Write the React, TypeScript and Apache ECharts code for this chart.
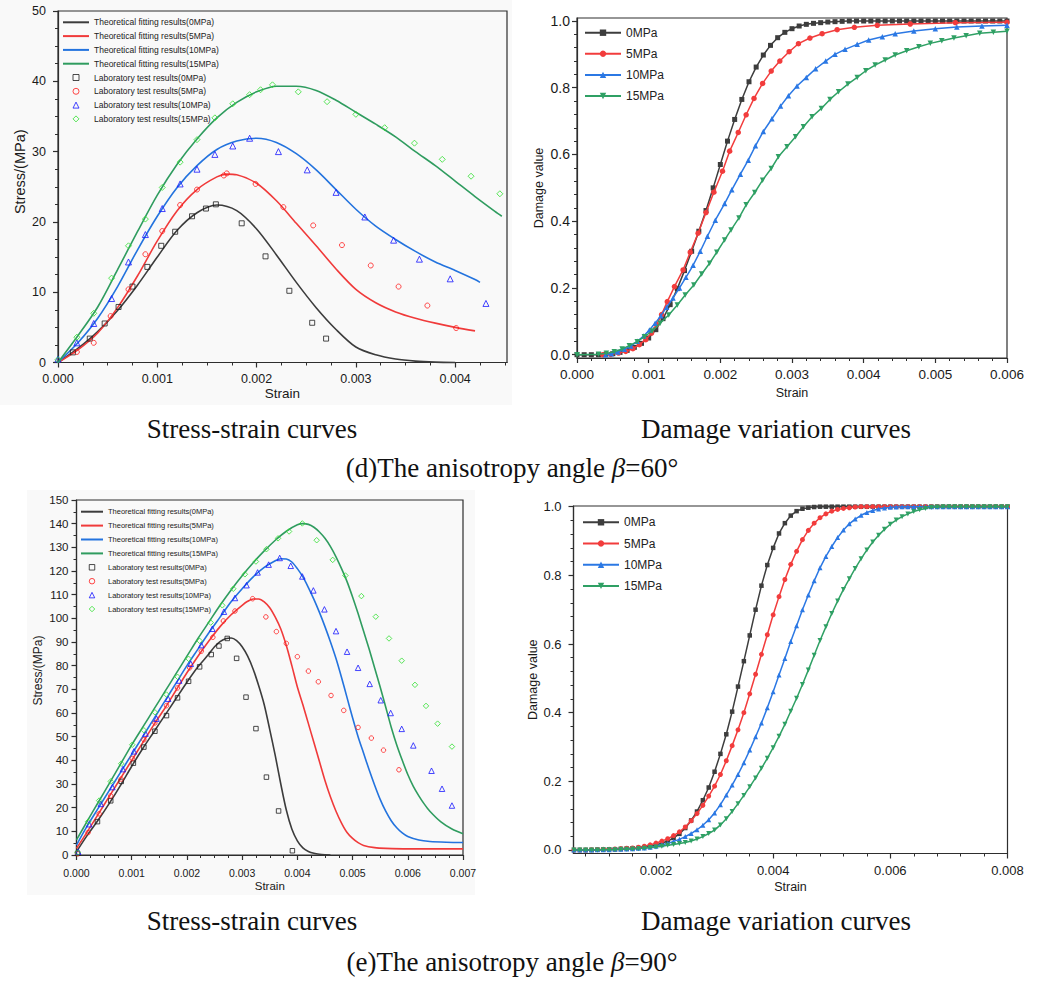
import React, { useEffect, useRef } from 'react';
import * as echarts from 'echarts';

// ---------------- Tick labels ----------------
const X60S_TICKS = [0, 0.001, 0.002, 0.003, 0.004];
const Y60S_TICKS = [0, 10, 20, 30, 40, 50];
const X60D_TICKS = [0, 0.001, 0.002, 0.003, 0.004, 0.005, 0.006];
const YD_TICKS = [0, 0.2, 0.4, 0.6, 0.8, 1.0];
const X90S_TICKS = [0, 0.001, 0.002, 0.003, 0.004, 0.005, 0.006, 0.007];
const Y90S_TICKS = [0, 10, 20, 30, 40, 50, 60, 70, 80, 90, 100, 110, 120, 130, 140, 150];
const X90D_TICKS = [0.002, 0.004, 0.006, 0.008];

// ---------------- (d) beta = 60, stress-strain ----------------
const FIT60_0 = [[0,0],[0.0002,2.0],[0.0004,4.4],[0.0006,7.4],[0.0008,11.0],[0.001,15.0],[0.0012,18.8],[0.0014,21.3],[0.0016,22.4],[0.0018,21.6],[0.002,19.0],[0.0022,15.3],[0.0024,11.4],[0.0026,7.8],[0.0028,4.7],[0.003,2.2],[0.0032,1.1],[0.0034,0.5],[0.0036,0.2],[0.0038,0.06],[0.004,0]];
const FIT60_5 = [[0,0],[0.0002,1.8],[0.0004,4.2],[0.0006,7.8],[0.0008,12.3],[0.001,17.3],[0.0012,21.6],[0.0014,24.6],[0.0016,26.4],[0.0017,26.8],[0.0018,26.7],[0.002,25.5],[0.0022,23.0],[0.0024,19.8],[0.0026,16.6],[0.0028,13.3],[0.003,10.4],[0.0032,8.5],[0.0034,7.2],[0.0036,6.3],[0.0038,5.6],[0.004,5.0],[0.0042,4.5]];
const FIT60_10 = [[0,0],[0.0002,2.8],[0.0004,6.3],[0.0006,10.8],[0.0008,16.0],[0.001,20.8],[0.0012,24.9],[0.0014,28.0],[0.0016,30.3],[0.0018,31.5],[0.002,31.9],[0.0022,31.3],[0.0024,29.7],[0.0026,27.4],[0.0028,24.6],[0.003,21.8],[0.0032,19.4],[0.0034,17.5],[0.0036,15.8],[0.0038,14.3],[0.004,13.1],[0.0042,11.8],[0.00425,11.4]];
const FIT60_15 = [[0,0],[0.0002,3.8],[0.0004,7.9],[0.0006,13.2],[0.0008,18.6],[0.001,23.8],[0.0012,28.2],[0.0014,31.8],[0.0016,34.8],[0.0018,37.0],[0.002,38.5],[0.0022,39.3],[0.0024,39.3],[0.0026,38.7],[0.0028,37.3],[0.003,35.6],[0.0032,33.9],[0.0034,32.1],[0.0036,30.0],[0.0038,28.0],[0.004,25.8],[0.0042,23.6],[0.0044,21.5],[0.00447,20.8]];
const LAB60_0 = [[0.00015,1.44],[0.00032,3.4],[0.00047,5.55],[0.00061,7.9],[0.00075,10.8],[0.0009,13.6],[0.00104,16.6],[0.00118,18.6],[0.00135,20.8],[0.00149,21.9],[0.00159,22.5],[0.00185,19.8],[0.00209,15.1],[0.00233,10.2],[0.00256,5.65],[0.0027,3.4]];
const LAB60_5 = [[0.00019,1.5],[0.00036,2.8],[0.00053,6.6],[0.00071,10.4],[0.00088,15.4],[0.00105,18.7],[0.00123,22.4],[0.0014,24.6],[0.00167,26.6],[0.0017,26.9],[0.00199,25.4],[0.00227,22.1],[0.00257,19.5],[0.00286,16.7],[0.00315,13.8],[0.00343,10.8],[0.00372,8.1],[0.00401,4.9]];
const LAB60_10 = [[0,0.5],[0.00019,2.8],[0.00036,5.55],[0.00054,9.1],[0.00071,14.3],[0.00088,18.2],[0.00105,21.9],[0.00123,25.4],[0.0014,27.5],[0.00158,29.6],[0.00176,30.8],[0.00193,31.9],[0.00222,30.0],[0.00251,27.4],[0.0028,24.2],[0.00309,20.7],[0.00338,17.4],[0.00364,14.7],[0.00395,11.9],[0.00431,8.4]];
const LAB60_15 = [[0,0.4],[0.00019,3.6],[0.00036,7.0],[0.00054,12.0],[0.00071,16.6],[0.00088,20.4],[0.00105,24.9],[0.00123,28.5],[0.0014,31.7],[0.00158,34.8],[0.00176,36.8],[0.00193,38.1],[0.00204,38.8],[0.00216,39.5],[0.00242,38.5],[0.00271,37.1],[0.003,35.3],[0.00329,33.4],[0.00359,31.2],[0.00387,28.9],[0.00416,26.5],[0.00445,24.0]];

// ---------------- (d) beta = 60, damage ----------------
const STRAIN_D60_0 = [0,0.0001,0.0002,0.0003,0.0004,0.0005,0.0006,0.0007,0.0008,0.0009,0.001,0.0011,0.0012,0.0013,0.0014,0.0015,0.0016,0.0017,0.0018,0.0019,0.002,0.0021,0.0022,0.0023,0.0024,0.0025,0.0026,0.0027,0.0028,0.0029,0.003,0.0031,0.0032,0.0033,0.0034,0.0035,0.0036,0.0037,0.0038,0.0039,0.004,0.0041,0.0042,0.0043,0.0044,0.0045,0.0046,0.0047,0.0048,0.0049,0.005,0.0051,0.0052,0.0053,0.0054,0.0055,0.0056,0.0057,0.0058,0.0059,0.006];
const DMG60_0 = [0,0,0,0,0.001,0.003,0.007,0.013,0.022,0.034,0.05,0.075,0.108,0.15,0.198,0.252,0.31,0.37,0.432,0.5,0.57,0.64,0.705,0.765,0.818,0.862,0.898,0.927,0.95,0.966,0.977,0.985,0.99,0.993,0.995,0.997,0.998,0.999,1,1,1,1,1,1,1,1,1,1,1,1,1,1,1,1,1,1,1,1,1,1,1];
const DMG60_5 = [[0.00036,0],[0.00047,0.001],[0.00058,0.005],[0.00068,0.01],[0.00078,0.018],[0.00087,0.03],[0.00096,0.045],[0.00104,0.065],[0.00111,0.09],[0.00118,0.12],[0.00126,0.159],[0.00136,0.204],[0.00148,0.254],[0.00158,0.307],[0.00169,0.364],[0.0018,0.426],[0.00191,0.487],[0.00203,0.55],[0.00213,0.61],[0.00225,0.666],[0.00236,0.719],[0.00247,0.768],[0.00259,0.813],[0.00271,0.85],[0.00283,0.88],[0.00296,0.908],[0.00309,0.932],[0.00325,0.949],[0.00342,0.962],[0.00363,0.974],[0.00387,0.981],[0.00419,0.987],[0.00465,0.991],[0.00528,0.995],[0.006,0.996]];
const DMG60_10 = [[0.0004,0],[0.00048,0.003],[0.00057,0.008],[0.00066,0.016],[0.00075,0.026],[0.00084,0.04],[0.00093,0.056],[0.00101,0.074],[0.00109,0.094],[0.00117,0.117],[0.00125,0.142],[0.00134,0.17],[0.00143,0.2],[0.00152,0.232],[0.00162,0.268],[0.00172,0.31],[0.00182,0.355],[0.00193,0.403],[0.00206,0.453],[0.00216,0.494],[0.00228,0.541],[0.00239,0.583],[0.00249,0.626],[0.0026,0.669],[0.00272,0.707],[0.00284,0.745],[0.00295,0.776],[0.00307,0.805],[0.0032,0.831],[0.00333,0.857],[0.00347,0.88],[0.0036,0.9],[0.00374,0.915],[0.00391,0.93],[0.00407,0.943],[0.00426,0.953],[0.00444,0.962],[0.0047,0.97],[0.005,0.977],[0.0053,0.982],[0.00565,0.985],[0.006,0.987]];
const DMG60_15 = [[0,0],[0.0003,0.001],[0.00041,0.004],[0.00052,0.009],[0.00063,0.017],[0.00073,0.027],[0.00084,0.039],[0.00094,0.054],[0.00105,0.071],[0.00116,0.094],[0.00128,0.119],[0.0014,0.149],[0.00151,0.179],[0.00163,0.209],[0.00174,0.242],[0.00185,0.274],[0.00195,0.307],[0.00206,0.344],[0.00215,0.374],[0.00226,0.41],[0.00236,0.449],[0.00248,0.486],[0.00259,0.523],[0.00271,0.558],[0.00281,0.593],[0.00293,0.623],[0.00305,0.653],[0.00316,0.683],[0.00328,0.713],[0.00341,0.738],[0.00353,0.765],[0.00365,0.788],[0.00378,0.811],[0.00391,0.831],[0.00403,0.851],[0.00416,0.868],[0.0043,0.883],[0.00444,0.898],[0.0046,0.911],[0.00477,0.923],[0.00493,0.933],[0.00509,0.941],[0.00526,0.949],[0.00543,0.956],[0.00562,0.963],[0.00581,0.966],[0.006,0.969]];

// ---------------- (e) beta = 90, stress-strain ----------------
const FIT90_0 = [[0,1.4],[0.0002,8.5],[0.0004,15],[0.0006,22],[0.0008,29.5],[0.001,37.5],[0.0012,45],[0.0014,52],[0.0016,59],[0.0018,66],[0.002,73],[0.0022,79.5],[0.0024,85],[0.0025,88],[0.0026,90.2],[0.0027,91.4],[0.0028,91.7],[0.0029,90.6],[0.003,88],[0.0031,84],[0.0032,78.5],[0.0033,71.5],[0.0034,63.5],[0.0035,53],[0.0036,42],[0.0037,30],[0.0038,19],[0.0039,11],[0.004,6],[0.0041,3],[0.0042,1.5],[0.0043,0.7],[0.0044,0.3],[0.0045,0.1],[0.0046,0]];
const FIT90_5 = [[0,2.8],[0.0002,10],[0.0004,17.5],[0.0006,25],[0.0008,32.5],[0.001,40],[0.0012,47.5],[0.0014,55],[0.0016,62],[0.0018,69.5],[0.002,77],[0.0022,84],[0.0024,90.5],[0.0026,96.5],[0.0028,101.5],[0.003,105.5],[0.0031,107.2],[0.0032,108.2],[0.0033,108.2],[0.0034,107],[0.0035,104.5],[0.0036,100.5],[0.0037,95.5],[0.0038,88.5],[0.0039,80],[0.004,71],[0.0041,63.5],[0.0042,55.5],[0.0043,47.5],[0.0044,39.5],[0.0045,31.5],[0.0046,24.5],[0.0047,18.5],[0.0048,13.5],[0.0049,9.5],[0.005,7],[0.0051,5.2],[0.0052,4],[0.0054,3.1],[0.0056,2.8],[0.006,2.6],[0.0065,2.6],[0.007,2.6]];
const FIT90_10 = [[0,4.2],[0.0002,12.5],[0.0004,20],[0.0006,27.5],[0.0008,35],[0.001,42.5],[0.0012,50],[0.0014,57.5],[0.0016,65],[0.0018,72.5],[0.002,80],[0.0022,87],[0.0024,94],[0.0026,100.5],[0.0028,107],[0.003,112.5],[0.0032,117.5],[0.0034,121.5],[0.0036,124.3],[0.0037,125.2],[0.0038,125.1],[0.0039,123.8],[0.004,121],[0.0041,117.5],[0.0042,113],[0.0043,108],[0.0044,102.5],[0.0045,96.5],[0.0046,90],[0.0047,83],[0.0048,75],[0.0049,66.5],[0.005,58],[0.0051,50],[0.0052,43],[0.0053,36],[0.0054,29.5],[0.0055,23.5],[0.0056,18.5],[0.0057,14.5],[0.0058,11.5],[0.0059,9.3],[0.006,7.8],[0.0062,6.3],[0.0064,5.7],[0.0067,5.4],[0.007,5.3]];
const FIT90_15 = [[0,6.4],[0.0002,14.5],[0.0004,22.5],[0.0006,30.5],[0.0008,38.5],[0.001,46.5],[0.0012,54],[0.0014,61.5],[0.0016,69],[0.0018,76.5],[0.002,84],[0.0022,91.5],[0.0024,98.5],[0.0026,105.5],[0.0028,112],[0.003,118],[0.0032,123.5],[0.0034,128.5],[0.0036,133],[0.0038,136.8],[0.004,139.5],[0.0041,140],[0.0042,139.7],[0.0043,138.5],[0.0044,136.5],[0.0045,133.8],[0.0046,130.3],[0.0047,126],[0.0048,121],[0.0049,115.5],[0.005,109],[0.0051,102],[0.0052,94.5],[0.0053,87],[0.0054,79],[0.0055,71],[0.0056,62.5],[0.0057,54],[0.0058,46.5],[0.0059,40],[0.006,34],[0.0061,29],[0.0062,25],[0.0063,21.5],[0.0064,18.5],[0.0066,14],[0.0068,11],[0.007,9]];
const LAB90_0 = [[0.00002,0.7],[0.00038,14.1],[0.00062,22.9],[0.00081,31.1],[0.00103,38.8],[0.00122,45.6],[0.00142,52.3],[0.00163,58.9],[0.00183,66.4],[0.00203,73.4],[0.00223,79.5],[0.00244,84.7],[0.00258,88.3],[0.00273,91.5],[0.0029,83.1],[0.00307,66.7],[0.00325,53.4],[0.00344,32.9],[0.00366,18.6],[0.00391,1.8]];
const LAB90_5 = [[0.00002,0.5],[0.00021,9.5],[0.00041,17.4],[0.00062,25],[0.00081,32.1],[0.00101,40.8],[0.00122,48.7],[0.00142,55.8],[0.00163,63.1],[0.00183,70.6],[0.00205,79.1],[0.00226,86.1],[0.00247,92],[0.00266,98.9],[0.00287,103.1],[0.00319,108.3],[0.00343,100.6],[0.00362,94.4],[0.0038,89.4],[0.004,83.8],[0.0042,77.7],[0.00438,73.2],[0.00461,67.4],[0.00484,61.1],[0.0051,53.9],[0.00534,49.4],[0.00556,44.3],[0.00584,36]];
const LAB90_10 = [[0.00003,1.4],[0.00023,13],[0.00044,21.6],[0.00065,28.7],[0.00084,36.3],[0.00104,43.8],[0.00125,51.3],[0.00145,57.6],[0.00166,66],[0.00186,73.7],[0.00207,80.8],[0.00226,88.7],[0.00246,95.6],[0.00267,102.8],[0.00287,108.6],[0.00308,114],[0.00328,119.4],[0.00348,122.7],[0.00368,125.5],[0.00388,122.2],[0.00409,117.7],[0.00429,111.8],[0.00449,103.8],[0.0047,94.6],[0.0049,85.9],[0.0051,79.1],[0.00531,72.3],[0.00551,65.4],[0.00569,60],[0.00589,53.3],[0.0061,46.3],[0.00643,35.6],[0.00662,28],[0.0068,20.9]];
const LAB90_15 = [[0.00002,1.0],[0.00021,14.1],[0.00041,23],[0.00062,31.1],[0.00081,38.6],[0.00101,46.6],[0.00122,52.7],[0.00142,60.3],[0.00163,67.8],[0.00183,75.3],[0.00203,82.9],[0.00223,90.5],[0.00243,98.2],[0.00264,105.5],[0.00284,112.5],[0.00305,118.6],[0.00325,124],[0.00344,129.2],[0.00365,133.8],[0.00385,136.7],[0.00409,140.1],[0.00435,133],[0.00464,124.7],[0.00487,118.1],[0.00516,109.4],[0.00542,100.7],[0.00566,91.5],[0.00589,82.1],[0.00613,71.9],[0.00633,63],[0.00654,55.5],[0.0068,45.8]];

// ---------------- (e) beta = 90, damage ----------------
const STRAIN_D90 = [0.0006,0.0007,0.0008,0.0009,0.001,0.0011,0.0012,0.0013,0.0014,0.0015,0.0016,0.0017,0.0018,0.0019,0.002,0.0021,0.0022,0.0023,0.0024,0.0025,0.0026,0.0027,0.0028,0.0029,0.003,0.0031,0.0032,0.0033,0.0034,0.0035,0.0036,0.0037,0.0038,0.0039,0.004,0.0041,0.0042,0.0043,0.0044,0.0045,0.0046,0.0047,0.0048,0.0049,0.005,0.0051,0.0052,0.0053,0.0054,0.0055,0.0056,0.0057,0.0058,0.0059,0.006,0.0061,0.0062,0.0063,0.0064,0.0065,0.0066,0.0067,0.0068,0.0069,0.007,0.0071,0.0072,0.0073,0.0074,0.0075,0.0076,0.0077,0.0078,0.0079,0.008];
const DMG90_0 = [0,0,0,0,0.001,0.001,0.002,0.002,0.003,0.004,0.005,0.006,0.008,0.011,0.015,0.02,0.026,0.035,0.047,0.064,0.086,0.112,0.145,0.182,0.228,0.28,0.337,0.403,0.476,0.55,0.625,0.7,0.77,0.83,0.88,0.922,0.952,0.974,0.987,0.994,0.997,0.999,1,1,1,1,1,1,1,1,1,1,1,1,1,1,1,1,1,1,1,1,1,1,1,1,1,1,1,1,1,1,1,1,1];
const DMG90_5 = [0,0,0,0.001,0.001,0.002,0.002,0.003,0.004,0.005,0.006,0.008,0.011,0.015,0.02,0.026,0.033,0.042,0.053,0.067,0.085,0.106,0.13,0.157,0.186,0.22,0.26,0.304,0.35,0.4,0.455,0.512,0.57,0.627,0.685,0.738,0.788,0.832,0.87,0.904,0.931,0.952,0.968,0.979,0.987,0.992,0.995,0.997,0.999,1,1,1,1,1,1,1,1,1,1,1,1,1,1,1,1,1,1,1,1,1,1,1,1,1,1];
const DMG90_10 = [0,0,0,0,0.001,0.001,0.001,0.002,0.002,0.003,0.004,0.005,0.006,0.008,0.011,0.015,0.019,0.025,0.031,0.039,0.048,0.059,0.072,0.088,0.108,0.132,0.16,0.189,0.22,0.254,0.291,0.33,0.37,0.414,0.461,0.51,0.558,0.607,0.653,0.7,0.743,0.784,0.822,0.855,0.884,0.91,0.932,0.95,0.964,0.975,0.983,0.989,0.993,0.996,0.998,0.999,1,1,1,1,1,1,1,1,1,1,1,1,1,1,1,1,1,1,1];
const DMG90_15 = [0,0,0,0,0,0.001,0.001,0.001,0.002,0.002,0.003,0.004,0.005,0.007,0.009,0.011,0.014,0.016,0.019,0.022,0.026,0.032,0.039,0.048,0.058,0.073,0.091,0.112,0.135,0.159,0.184,0.21,0.238,0.267,0.298,0.331,0.366,0.404,0.442,0.482,0.524,0.567,0.61,0.65,0.689,0.725,0.759,0.79,0.82,0.848,0.874,0.897,0.917,0.934,0.949,0.961,0.971,0.979,0.986,0.991,0.995,0.998,0.999,1,1,1,1,1,1,1,1,1,1,1,1];

const FIT_NAMES = ['Theoretical fitting results(0MPa)', 'Theoretical fitting results(5MPa)', 'Theoretical fitting results(10MPa)', 'Theoretical fitting results(15MPa)'];
const LAB_NAMES = ['Laboratory test results(0MPa)', 'Laboratory test results(5MPa)', 'Laboratory test results(10MPa)', 'Laboratory test results(15MPa)'];
const DMG_NAMES = ['0MPa', '5MPa', '10MPa', '15MPa'];

const FONT = "'Liberation Sans', Arial, Helvetica, sans-serif";
const SERIF = "'Liberation Serif', 'Times New Roman', Times, serif";
const AX = '#2e2e2e';
const FIT_COLORS = ['#3c3c3c', '#f03a3a', '#2373de', '#2f9c5f'];
const LAB_COLORS = ['#1e1e1e', '#ff1c1c', '#1818ff', '#2fe02f'];
const DMG_COLORS = ['#3d3d3d', '#f23c3c', '#2b78e4', '#2fa064'];
const LAB_SYMBOLS = ['rect', 'circle', 'triangle', 'diamond'];
const LAB_LEGEND_ICONS = [
  'path://M0,0L10,0L10,10L0,10Z',
  'path://M0,5A5,5,0,1,0,10,5A5,5,0,1,0,0,5Z',
  'path://M5,0L10,10L0,10Z',
  'path://M5,0L10,5L5,10L0,5Z',
];
const DMG_SYMBOLS = ['rect', 'circle', 'triangle', 'triangle'];

function between(start: number, end: number, step: number, skip: number[]) {
  const out: number[] = [];
  const n = Math.round((end - start) / step);
  for (let i = 0; i <= n; i++) {
    const v = Math.round((start + i * step) * 1e7) / 1e7;
    if (!skip.some((s) => Math.abs(s - v) < 1e-9)) out.push(v);
  }
  return out;
}

const zip = (xs: number[], ys: number[]) => xs.map((x, i) => [x, ys[i]]);

type AxisCfg = {
  min: number; max: number; major: number[]; minor: number[]; digits: number;
  fontSize: number; margin: number; name: string; nameGap: number; nameSize: number; namePad?: number[];
};

const PANELS: { grid: any; x: AxisCfg; y: AxisCfg }[] = [
  {
    grid: { left: 58, top: 11, width: 449, height: 351.5 },
    x: { min: 0, max: 0.004522, major: X60S_TICKS, minor: between(0, 0.0045, 0.00025, X60S_TICKS), digits: 3, fontSize: 12.5, margin: 10, name: 'Strain', nameGap: 23, nameSize: 13.5 },
    y: { min: 0, max: 50, major: Y60S_TICKS, minor: between(0, 50, 2.5, Y60S_TICKS), digits: 0, fontSize: 12.5, margin: 12, name: 'Stress/(MPa)', nameGap: 31, nameSize: 14.5, namePad: [0, 0, 0, 30] },
  },
  {
    grid: { left: 577, top: 18, width: 430, height: 340 },
    x: { min: 0, max: 0.006, major: X60D_TICKS, minor: between(0, 0.006, 0.0002, X60D_TICKS), digits: 3, fontSize: 13.5, margin: 9, name: 'Strain', nameGap: 28, nameSize: 12.5 },
    y: { min: -0.0099, max: 1.009, major: YD_TICKS, minor: between(0, 1, 0.04, YD_TICKS), digits: 1, fontSize: 14, margin: 7, name: 'Damage value', nameGap: 32, nameSize: 12.5 },
  },
  {
    grid: { left: 76.5, top: 500, width: 386.5, height: 355 },
    x: { min: 0, max: 0.007, major: X90S_TICKS, minor: between(0, 0.007, 0.00025, X90S_TICKS), digits: 3, fontSize: 10.5, margin: 12, name: 'Strain', nameGap: 25, nameSize: 11.5 },
    y: { min: 0, max: 150, major: Y90S_TICKS, minor: between(0, 150, 5, Y90S_TICKS), digits: 0, fontSize: 11.5, margin: 8, name: 'Stress/(MPa)', nameGap: 33, nameSize: 12, namePad: [0, 0, 0, 14] },
  },
  {
    grid: { left: 573.5, top: 506, width: 434, height: 347.5 },
    x: { min: 0.000592, max: 0.008, major: X90D_TICKS, minor: between(0.0008, 0.008, 0.0004, X90D_TICKS), digits: 3, fontSize: 13, margin: 10, name: 'Strain', nameGap: 27, nameSize: 12.5 },
    y: { min: -0.0102, max: 1.002, major: YD_TICKS, minor: between(0, 1, 0.04, YD_TICKS), digits: 1, fontSize: 13, margin: 12, name: 'Damage value', nameGap: 32, nameSize: 12.5 },
  },
];

function buildOption() {
  const grid: any[] = [];
  const xAxis: any[] = [];
  const yAxis: any[] = [];
  PANELS.forEach((p, g) => {
    grid.push({ ...p.grid, show: true, borderColor: AX, borderWidth: 1.2, backgroundColor: 'transparent', containLabel: false, outerBoundsMode: 'none' });
    (['x', 'y'] as const).forEach((dim) => {
      const c = p[dim];
      const list = dim === 'x' ? xAxis : yAxis;
      const position = dim === 'x' ? 'bottom' : 'left';
      list.push({
        type: 'value', gridIndex: g, position, min: c.min, max: c.max,
        name: c.name, nameLocation: 'middle', nameGap: c.nameGap,
        nameTextStyle: { fontSize: c.nameSize, fontFamily: FONT, color: '#1a1a1a', padding: c.namePad || 0 },
        axisLine: { show: true, onZero: false, lineStyle: { color: AX, width: 1.2 } },
        axisTick: { show: true, inside: false, length: 5, customValues: c.major, lineStyle: { color: AX, width: 1.2 } },
        axisLabel: {
          show: true, customValues: c.major, margin: c.margin, fontSize: c.fontSize, fontFamily: FONT, color: '#1a1a1a',
          formatter: (v: number) => v.toFixed(c.digits),
        },
        splitLine: { show: false }, minorTick: { show: false },
      });
      list.push({
        type: 'value', gridIndex: g, position, min: c.min, max: c.max,
        axisLine: { show: false, onZero: false },
        axisTick: { show: true, inside: false, length: 3, customValues: c.minor, lineStyle: { color: AX, width: 1 } },
        axisLabel: { show: false }, splitLine: { show: false },
      });
    });
  });

  const series: any[] = [];
  const fitLine = (g: number, name: string, data: number[][], color: string) => ({
    type: 'line', name, xAxisIndex: 2 * g, yAxisIndex: 2 * g, data, symbol: 'none', smooth: 0.3,
    lineStyle: { color, width: 1.6 }, itemStyle: { color }, clip: false, z: 2,
  });
  const labScatter = (g: number, name: string, data: number[][], color: string, symbol: string, size: number) => ({
    type: 'scatter', name, xAxisIndex: 2 * g, yAxisIndex: 2 * g, data, symbol, symbolSize: size,
    itemStyle: { color: 'rgba(255,255,255,0)', borderColor: color, borderWidth: 1 }, clip: false, z: 3,
  });
  const dmgLine = (g: number, name: string, data: number[][], i: number, size: number) => ({
    type: 'line', name, xAxisIndex: 2 * g, yAxisIndex: 2 * g, data, symbol: DMG_SYMBOLS[i],
    symbolRotate: i === 3 ? 180 : 0, symbolSize: size, showAllSymbol: true,
    lineStyle: { color: DMG_COLORS[i], width: 1.5 }, itemStyle: { color: DMG_COLORS[i] }, clip: false, z: 2 + i,
  });

  const fit60 = [FIT60_0, FIT60_5, FIT60_10, FIT60_15];
  const lab60 = [LAB60_0, LAB60_5, LAB60_10, LAB60_15];
  const fit90 = [FIT90_0, FIT90_5, FIT90_10, FIT90_15];
  const lab90 = [LAB90_0, LAB90_5, LAB90_10, LAB90_15];
  const dmg60 = [zip(STRAIN_D60_0, DMG60_0), DMG60_5, DMG60_10, DMG60_15];
  const dmg90 = [zip(STRAIN_D90, DMG90_0), zip(STRAIN_D90, DMG90_5), zip(STRAIN_D90, DMG90_10), zip(STRAIN_D90, DMG90_15)];
  const labSize = [5, 5, 6, 6];

  for (let i = 0; i < 4; i++) series.push(fitLine(0, FIT_NAMES[i], fit60[i], FIT_COLORS[i]));
  for (let i = 0; i < 4; i++) series.push(labScatter(0, LAB_NAMES[i], lab60[i], LAB_COLORS[i], LAB_SYMBOLS[i], labSize[i]));
  for (let i = 0; i < 4; i++) series.push(dmgLine(1, DMG_NAMES[i], dmg60[i], i, i === 0 ? 5 : 5.5));
  for (let i = 0; i < 4; i++) series.push(fitLine(2, FIT_NAMES[i], fit90[i], FIT_COLORS[i]));
  for (let i = 0; i < 4; i++) series.push(labScatter(2, LAB_NAMES[i], lab90[i], LAB_COLORS[i], LAB_SYMBOLS[i], labSize[i] - 0.5));
  for (let i = 0; i < 4; i++) series.push(dmgLine(3, DMG_NAMES[i], dmg90[i], i, i === 0 ? 4.5 : 5));

  const stressLegendData = [
    ...FIT_NAMES.map((n) => ({ name: n, itemStyle: { opacity: 0 } })),
    ...LAB_NAMES.map((n, i) => ({ name: n, icon: LAB_LEGEND_ICONS[i] })),
  ];
  const legend = [
    {
      orient: 'vertical', left: 62, top: 17.3, padding: 0, itemWidth: 26, itemHeight: 6, itemGap: 3.8,
      selectedMode: false, symbolKeepAspect: true, itemStyle: { borderWidth: 1 },
      textStyle: { fontSize: 8.5, fontFamily: FONT, color: '#222', lineHeight: 10 }, data: stressLegendData,
    },
    {
      orient: 'vertical', left: 584, top: 25.7, padding: 0, itemWidth: 36, itemHeight: 8, itemGap: 7.1,
      selectedMode: false,
      textStyle: { fontSize: 12, fontFamily: FONT, color: '#222', lineHeight: 14 }, data: DMG_NAMES,
    },
    {
      orient: 'vertical', left: 80, top: 506.7, padding: 0, itemWidth: 22, itemHeight: 5.5, itemGap: 3.9,
      selectedMode: false, symbolKeepAspect: true, itemStyle: { borderWidth: 1 },
      textStyle: { fontSize: 7.5, fontFamily: FONT, color: '#222', lineHeight: 10 }, data: stressLegendData,
    },
    {
      orient: 'vertical', left: 582, top: 515.3, padding: 0, itemWidth: 36, itemHeight: 8, itemGap: 7.2,
      selectedMode: false,
      textStyle: { fontSize: 12, fontFamily: FONT, color: '#222', lineHeight: 14 }, data: DMG_NAMES,
    },
  ];

  const cap = (x: number, y: number, text: string, rich?: boolean) => ({
    type: 'text', x, y, z: 10,
    style: {
      text, fontSize: 27, fontFamily: SERIF, fill: '#111', align: 'center', verticalAlign: 'middle',
      rich: rich ? { b: { fontStyle: 'italic', fontSize: 27, fontFamily: SERIF, fill: '#111' } } : undefined,
    },
  });

  const graphic = [
    { type: 'rect', z: -10, shape: { x: 0, y: 0, width: 512, height: 405 }, style: { fill: '#f9f9f9' } },
    { type: 'rect', z: -10, shape: { x: 27, y: 490, width: 448, height: 405 }, style: { fill: '#f9f9f9' } },
    cap(252, 429, 'Stress-strain curves'),
    cap(776, 429, 'Damage variation curves'),
    cap(512, 468, '(d)The anisotropy angle {b|β}=60°', true),
    cap(252, 921, 'Stress-strain curves'),
    cap(776, 921, 'Damage variation curves'),
    cap(512, 962, '(e)The anisotropy angle {b|β}=90°', true),
  ];

  return { animation: false, backgroundColor: '#ffffff', grid, xAxis, yAxis, series, legend, graphic };
}

export default function App() {
  const ref = useRef<HTMLDivElement>(null);
  useEffect(() => {
    if (!ref.current) return;
    const chart = echarts.init(ref.current, null, { renderer: 'svg' });
    chart.setOption(buildOption() as any);
    return () => chart.dispose();
  }, []);
  return (
    <div
      ref={ref}
      style={{ position: 'absolute', left: 0, top: 0, width: 1037, height: 984, background: '#fff' }}
    />
  );
}
